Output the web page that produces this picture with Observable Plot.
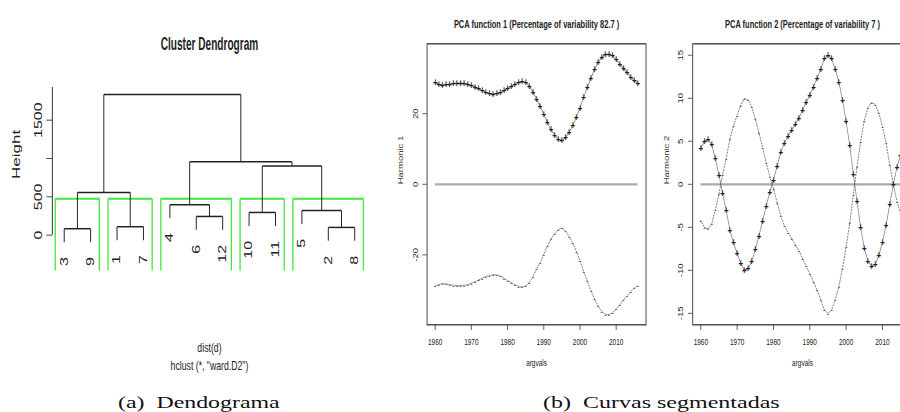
<!DOCTYPE html>
<html><head><meta charset="utf-8">
<script src="https://cdn.jsdelivr.net/npm/d3@7"></script>
<script src="https://cdn.jsdelivr.net/npm/@observablehq/plot@0.6"></script>
<style>
html,body{margin:0;padding:0;background:#fff;}
#wrap{position:relative;width:900px;height:412px;overflow:hidden;background:#fff;}
.panel{position:absolute;top:0;height:412px;transform-origin:0 0;}
.panel svg{position:absolute;top:0;max-width:none;}
.cap{position:absolute;white-space:nowrap;font-family:"Liberation Serif","Times New Roman",serif;font-size:17.5px;line-height:17.5px;color:#111;transform-origin:0 0;}
</style></head>
<body><div id="wrap">
<div id="left" class="panel" style="left:0;width:600px;transform:scaleX(0.65)"></div>
<div id="right" class="panel" style="left:380px;width:800px;transform:scaleX(0.68)"></div>
<span id="capA" class="cap" style="top:393.6px">(a)&ensp;Dendograma</span>
<span id="capB" class="cap" style="top:393.6px">(b)&ensp;Curvas segmentadas</span>
</div>
<script>
// ---------- Dendrogram data (R hclust style) ----------
const leafLabels = ["1","2","3","4","5","6","7","8","9","10","11","12"];
const leafOrder = [3, 9, 1, 7, 4, 6, 12, 10, 11, 5, 2, 8];
const mergeLeft  = [-3, -2, -1, -6, -10, -5, -4, 1, 5, 7, 8];
const mergeRight = [-9, -8, -7, -12, -11, 2, 4, 3, 6, 9, 10];
const mergeHeight = [84, 101, 110, 244, 296, 322, 396, 556, 903, 958, 1834];
const clusterCount = 5;
const heightTicks = [0, 500, 1000, 1500];
const heightTickLabels = ["0", "500", "", "1500"];   // R drops the overlapping "1000"
const dendroTitle = "Cluster Dendrogram";
const dendroSub = ["dist(d)", "hclust (*, \"ward.D2\")"];
const dendroYLabel = "Height";
const dendroYDomain = [-461, 1926];
const dendroXDomain = [0.55, 12.45];

// ---------- PCA harmonics data ----------
const years = [1960,1961,1962,1963,1964,1965,1966,1967,1968,1969,
  1970,1971,1972,1973,1974,1975,1976,1977,1978,1979,
  1980,1981,1982,1983,1984,1985,1986,1987,1988,1989,
  1990,1991,1992,1993,1994,1995,1996,1997,1998,1999,
  2000,2001,2002,2003,2004,2005,2006,2007,2008,2009,
  2010,2011,2012,2013,2014,2015,2016];
const harmonic1 = [28.8,28.4,28.1,28.2,28.4,28.6,28.7,28.7,28.6,28.4,
  28.0,27.6,27.1,26.6,26.1,25.8,25.6,25.7,26.0,26.6,
  27.2,27.8,28.4,28.9,29.1,28.8,27.8,26.2,24.0,22.2,
  19.8,17.5,15.5,14.0,12.8,12.4,13.2,14.8,16.6,19.0,
  21.6,24.6,27.4,30.0,32.5,34.5,36.0,36.8,36.9,36.4,
  35.3,34.1,32.8,31.6,30.4,29.4,28.6];
const harmonic2 = [4.2,5.0,5.2,4.6,3.0,1.1,-1.1,-3.0,-5.3,-6.8,
  -8.0,-9.2,-10.0,-9.8,-9.0,-7.6,-6.0,-4.3,-2.5,-0.9,
  0.5,2.1,3.7,4.8,5.6,6.3,7.0,7.7,8.6,9.5,
  10.4,11.3,12.3,13.4,14.6,15.0,14.6,13.4,11.9,9.8,
  7.3,4.5,1.2,-2.0,-5.0,-7.4,-8.9,-9.5,-9.3,-8.3,
  -6.7,-4.8,-2.3,0.0,2.0,3.4,4.4];
const meanLevel = 0;
const pcaTitles = ["PCA function 1 (Percentage of variability 82.7 )", "PCA function 2 (Percentage of variability 7 )"];
const pcaYLabels = ["Harmonic 1", "Harmonic 2"];
const pcaXLabel = "argvals";
const pcaXTicks = [1960, 1970, 1980, 1990, 2000, 2010];
const pcaYTicks1 = [-20, 0, 20];
const pcaYTicks2 = [-15, -10, -5, 0, 5, 10, 15];
const pcaXDomain = [1957.76, 2018.24];
const pcaYDomain1 = [-39.8, 39.8];
const pcaYDomain2 = [-16.33, 16.33];

const ink = "#222";
const rFont = "'Liberation Sans', Arial, Helvetica, sans-serif";

// ---------- Dendrogram layout ----------
const leafPos = new Map(leafOrder.map((leaf, i) => [leaf, i + 1]));
const hang = 0.1 * (d3.max(mergeHeight) - d3.min(mergeHeight));
const mergeX = [];
const segs = [];
const leafEnds = [];
const childX = c => c < 0 ? leafPos.get(-c) : mergeX[c - 1];
for (let j = 0; j < mergeHeight.length; j++) {
  const h = mergeHeight[j];
  const cs = [mergeLeft[j], mergeRight[j]];
  const xs = cs.map(childX);
  mergeX[j] = (xs[0] + xs[1]) / 2;
  cs.forEach((c, k) => {
    const y0 = c < 0 ? h - hang : mergeHeight[c - 1];
    if (c < 0) leafEnds.push({label: leafLabels[-c - 1], x: xs[k], y: y0});
    segs.push({x1: xs[k], y1: y0, x2: xs[k], y2: h});
  });
  segs.push({x1: xs[0], y1: h, x2: xs[1], y2: h});
}
const nm = mergeHeight.length;
const topMerges = new Set(d3.range(nm - clusterCount + 1, nm));
const clusterRoots = [];
for (const j of topMerges) for (const c of [mergeLeft[j], mergeRight[j]])
  if (!(c > 0 && topMerges.has(c - 1))) clusterRoots.push(c);
const leavesOf = c => c < 0 ? [-c] : [...leavesOf(mergeLeft[c - 1]), ...leavesOf(mergeRight[c - 1])];
const sortedDesc = [...mergeHeight].sort((a, b) => b - a);
const rectTop = (sortedDesc[clusterCount - 2] + sortedDesc[clusterCount - 1]) / 2;
const yLow = dendroYDomain[0];
const rectEdges = [];
clusterRoots.forEach(c => {
  const ps = leavesOf(c).map(l => leafPos.get(l));
  const a = d3.min(ps) - 0.34, b = d3.max(ps) + 0.33;
  rectEdges.push({x1: a, y1: yLow, x2: a, y2: rectTop},
                 {x1: a, y1: rectTop, x2: b, y2: rectTop},
                 {x1: b, y1: rectTop, x2: b, y2: yLow});
});
const tickLabelMap = new Map(heightTicks.map((t, i) => [t, heightTickLabels[i]]));

const dendro = Plot.plot({
  width: 600, height: 412,
  marginLeft: 80, marginRight: 36.5, marginTop: 87, marginBottom: 142,
  x: {domain: dendroXDomain, axis: null},
  y: {domain: dendroYDomain, axis: null},
  style: {fontFamily: rFont, background: "transparent", color: ink},
  marks: [
    Plot.ruleX([dendroXDomain[0]], {y1: heightTicks[0], y2: dendroYDomain[1], stroke: ink, strokeWidth: 1.4}),
    Plot.axisY({ticks: heightTicks, tickSize: 8.6, tickPadding: 7.5, tickRotate: -90, fontSize: 16,
                tickFormat: d => tickLabelMap.get(d), label: null, stroke: ink, fill: ink}),
    Plot.link(rectEdges, {x1: "x1", y1: "y1", x2: "x2", y2: "y2", stroke: "#3ee83e", strokeWidth: 2}),
    Plot.link(segs, {x1: "x1", y1: "y1", x2: "x2", y2: "y2", stroke: ink, strokeWidth: 1.5}),
    Plot.text(leafEnds, {x: "x", y: "y", text: "label", rotate: -90, textAnchor: "end", dy: 15, fontSize: 16, fill: ink}),
    Plot.text([dendroTitle], {frameAnchor: "top", dy: -50.1, fontSize: 17.5, fontWeight: "bold", fill: ink}),
    Plot.text([dendroSub[0]], {frameAnchor: "bottom", dy: 81, fontSize: 13.4, fill: ink}),
    Plot.text([dendroSub[1]], {frameAnchor: "bottom", dy: 99.5, fontSize: 13.4, fill: ink}),
    Plot.text([dendroYLabel], {frameAnchor: "left", rotate: -90, dx: -54.6, fontSize: 17, fill: ink})
  ]
});
// condensed bold title, as in the reference
d3.select(dendro).selectAll("text").filter(function() { return this.textContent === dendroTitle; })
  .attr("textLength", 150).attr("lengthAdjust", "spacingAndGlyphs");
dendro.style.left = "0px";
document.getElementById("left").appendChild(dendro);

// ---------- PCA panels ----------
function pcaPlot({title, harm, yDomain, yTicks, ylabel, marginLeft, marginRight}) {
  const plus = harm.map(v => meanLevel + v);
  const minus = harm.map(v => meanLevel - v);
  return Plot.plot({
    width: 400, height: 412,
    marginLeft, marginRight, marginTop: 43.3, marginBottom: 87.7,
    x: {domain: pcaXDomain, axis: null},
    y: {domain: yDomain, axis: null},
    style: {fontFamily: rFont, background: "transparent", color: ink},
    marks: [
      Plot.ruleY([meanLevel], {x1: years[0], x2: years[years.length - 1], stroke: "#aaa", strokeWidth: 2.2}),
      Plot.line(years, {x: years, y: minus, stroke: "#666", strokeWidth: 1, strokeDasharray: "1.2,1.8"}),
      Plot.line(years, {x: years, y: plus, stroke: "#333", strokeWidth: 1.1, strokeOpacity: 0.6}),
      Plot.text(years, {x: years, y: plus, text: () => "+", fontSize: 11.5, fontWeight: "bold", fill: "#1c1c24"}),
      Plot.text(years, {x: years, y: minus, text: () => "-", fontSize: 10.5, fill: "#555"}),
      Plot.frame({stroke: "#444", strokeWidth: 1.4}),
      Plot.axisX({ticks: pcaXTicks, tickSize: 5.7, tickPadding: 7.3, fontSize: 9.5,
                  tickFormat: d => String(d), label: null, stroke: "#444", fill: ink}),
      Plot.axisY({ticks: yTicks, tickSize: 6.5, tickPadding: 7.5, tickRotate: -90, fontSize: 9.5,
                  tickFormat: d => String(d), label: null, stroke: "#444", fill: ink}),
      Plot.text([title], {frameAnchor: "top", dy: -24.1, fontSize: 11, fontWeight: "bold", fill: ink}),
      Plot.text([pcaXLabel], {frameAnchor: "bottom", dy: 41, fontSize: 9.5, fill: ink}),
      Plot.text([ylabel], {frameAnchor: "left", rotate: -90, dx: -38, fontSize: 9.5, fill: "#333"})
    ]
  });
}
const p1 = pcaPlot({title: pcaTitles[0], harm: harmonic1, yDomain: pcaYDomain1, yTicks: pcaYTicks1,
                    ylabel: pcaYLabels[0], marginLeft: 68.7, marginRight: 9.3});
const p2 = pcaPlot({title: pcaTitles[1], harm: harmonic2, yDomain: pcaYDomain2, yTicks: pcaYTicks2,
                    ylabel: pcaYLabels[1], marginLeft: 59.3, marginRight: 17.6});
p1.style.left = "0px";
p2.style.left = "400px";
const right = document.getElementById("right");
right.appendChild(p1);
right.appendChild(p2);

// ---------- Captions ----------
function fitCaption(id, targetWidth, centerX) {
  const el = document.getElementById(id);
  const w = el.getBoundingClientRect().width;
  el.style.left = (centerX - targetWidth / 2) + "px";
  el.style.transform = `scaleX(${targetWidth / w})`;
}
fitCaption("capA", 161.7, 199.2);
fitCaption("capB", 236.7, 661.7);
</script></body></html>
